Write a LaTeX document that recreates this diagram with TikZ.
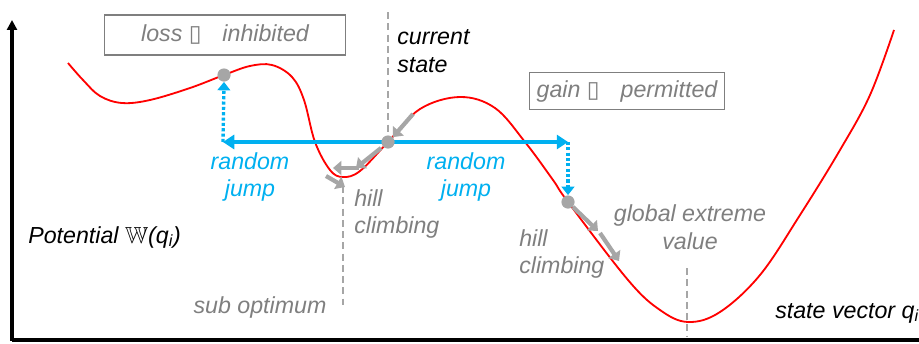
\documentclass[tikz,border=0pt]{standalone}
\usepackage{fontspec}
\usepackage{amssymb}
\setmainfont{Liberation Sans}
\newfontfamily\boxglyph{DejaVu Sans}
\usetikzlibrary{arrows.meta}
\begin{document}
\begin{tikzpicture}[x=0.025cm,y=-0.025cm]
	\tikzstyle{every node}=[font=\fontsize{16.5}{19.5}\selectfont\itshape, inner sep=0pt]
	\tikzset{
		redcurve/.style={color={rgb,255:red,255; green,0; blue,0}, line width=1.3pt},
		axisline/.style={line width=2.2pt},
		jumpline/.style={color={rgb,255:red,0; green,176; blue,240}, line width=2.4pt},
		jumpdots/.style={jumpline, dash pattern=on 2.2pt off 1.6pt},
		climbline/.style={color={rgb,255:red,166; green,166; blue,166}, line width=3pt, -{Triangle[length=6pt, width=10pt]}},
		markline/.style={color={rgb,255:red,166; green,166; blue,166}, line width=1.7pt, dash pattern=on 5pt off 3pt},
		statedot/.style={circle, fill={rgb,255:red,166; green,166; blue,166}, minimum size=0.33cm},
		graytext/.style={color={rgb,255:red,127; green,127; blue,127}},
		bluetext/.style={color={rgb,255:red,0; green,176; blue,240}},
		labelbox/.style={draw={rgb,255:red,200; green,200; blue,200}, line width=0.8pt, graytext}
	}
	\useasboundingbox (0,0) rectangle (919,343);
	% axes
	\draw [axisline, -{Triangle[length=7pt, width=7pt]}] (12,341) -- (12,20);
	\draw [axisline] (12,340) -- (919,340);
	% potential
	\draw [redcurve] plot[smooth, tension=0.6] coordinates {(68,63) (83,80) (100,96) (122,103) (150,100) (190,88) (224,75) (250,66) (272,65) (292,77) (304,100) (315,142) (330,170) (343,177) (360,171) (388,142) (420,109) (460,97) (495,108) (525,142) (553,180) (568,202) (628,280) (660,310) (688,322) (720,312) (760,275) (800,215) (840,150) (870,95) (894,30)};
	% marker lines
	\draw [markline] (388,12) -- (388,138);
	\draw [markline] (343,186) -- (343,305);
	\draw [markline] (687,268) -- (687,336);
	% random jump
	\coordinate (jumpL) at (223,142);
	\coordinate (jumpR) at (568,142);
	\node [statedot] (lossdot) at (224,75) {};
	\node [statedot] (gaindot) at (568,202) {};
	\draw [jumpline, {Triangle[length=8pt, width=10pt]}-{Triangle[length=8pt, width=10pt]}] (jumpL) -- (jumpR);
	\draw [jumpdots, -{Triangle[length=6pt, width=9pt]}] (jumpL) -- (lossdot.south);
	\draw [jumpdots, -{Triangle[length=6pt, width=9pt]}] (jumpR) -- (gaindot.north);
	\node [statedot] (curdot) at (388,142) {};
	% hill climbing
	\coordinate (climbA) at (413,114);
	\coordinate (climbB) at (381,148);
	\coordinate (climbC) at (356,168);
	\coordinate (climbD) at (359,168);
	\coordinate (climbE) at (333,168);
	\coordinate (climbF) at (326,176);
	\coordinate (climbG) at (345,187);
	\draw [climbline] (climbA) -- (curdot.north east);
	\draw [climbline] (climbB) -- (climbC);
	\draw [climbline] (climbD) -- (climbE);
	\draw [climbline] (climbF) -- (climbG);
	\coordinate (climbH) at (598,231);
	\coordinate (climbI) at (600,233);
	\coordinate (climbJ) at (619,261);
	\draw [climbline] (gaindot.south east) -- (climbH);
	\draw [climbline] (climbI) -- (climbJ);
	% labels
	\node [labelbox, minimum width=241*0.025cm, minimum height=40*0.025cm] (losslabel) at (225,35) {loss {\boxglyph\upshape ▯}\hspace{0.9em}inhibited};
	\node [labelbox, minimum width=195*0.025cm, minimum height=37*0.025cm] (gainlabel) at (627,91) {gain {\boxglyph\upshape ▯}\hspace{0.9em}permitted};
	\node [anchor=west, align=left] (curlabel) at (397,51) {current\\state};
	\node [bluetext, align=center] (jumplabelA) at (250,177) {random\\jump};
	\node [bluetext, align=center] (jumplabelB) at (466,177) {random\\jump};
	\node [graytext, anchor=west, align=left] (climblabelA) at (354,214) {hill\\climbing};
	\node [graytext, anchor=west, align=left] (climblabelB) at (519,254) {hill\\climbing};
	\node [graytext, align=center] (globallabel) at (690,227) {global extreme\\value};
	\node [graytext] (sublabel) at (260,307) {sub optimum};
	\node [anchor=west] (wlabel) at (28,237) {Potential \upshape$\mathbb{W}$\itshape(q\textsubscript{i})};
	\node [anchor=west] (qlabel) at (775,313) {state vector q\textsubscript{i}};
\end{tikzpicture}
\end{document}
